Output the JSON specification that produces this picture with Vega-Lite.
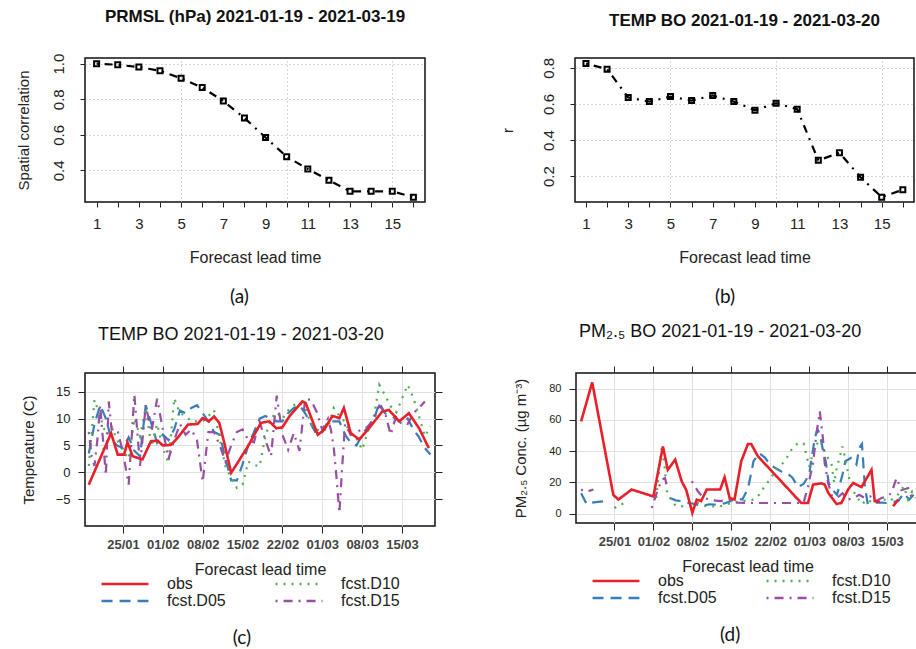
{
"$schema": "https://vega.github.io/schema/vega-lite/v6.json",
"background": "white",
"padding": {"left": 15, "top": 7, "right": 0, "bottom": 0},
"config": {
  "font": "Liberation Sans",
  "view": {"stroke": "#111", "strokeWidth": 1.5},
  "axis": {"labelFont": "Liberation Sans", "titleFont": "Liberation Sans", "titleFontWeight": "normal", "labelColor": "#222", "titleColor": "#222", "tickColor": "#222", "domain": false, "labelFlush": false, "labelOverlap": false},
  "title": {"font": "Liberation Sans", "color": "#111"}
},
"datasets": {
  "a": [{"lead":1,"r":1.0},{"lead":2,"r":0.994},{"lead":3,"r":0.981},{"lead":4,"r":0.96},{"lead":5,"r":0.918},{"lead":6,"r":0.866},{"lead":7,"r":0.79},{"lead":8,"r":0.695},{"lead":9,"r":0.585},{"lead":10,"r":0.477},{"lead":11,"r":0.408},{"lead":12,"r":0.344},{"lead":13,"r":0.282},{"lead":14,"r":0.282},{"lead":15,"r":0.282},{"lead":16,"r":0.249}],
  "b": [{"lead":1,"r":0.824},{"lead":2,"r":0.793},{"lead":3,"r":0.636},{"lead":4,"r":0.613},{"lead":5,"r":0.641},{"lead":6,"r":0.619},{"lead":7,"r":0.647},{"lead":8,"r":0.613},{"lead":9,"r":0.565},{"lead":10,"r":0.604},{"lead":11,"r":0.571},{"lead":12,"r":0.287},{"lead":13,"r":0.329},{"lead":14,"r":0.193},{"lead":15,"r":0.083},{"lead":16,"r":0.124}],
  "c_obs": [
{"s":"obs","t":"2021-01-19","v":-2.3},{"s":"obs","t":"2021-01-22T22:00Z","v":7.3},{"s":"obs","t":"2021-01-24T02:00Z","v":3.3},{"s":"obs","t":"2021-01-25T05:00Z","v":3.3},{"s":"obs","t":"2021-01-25T19:00Z","v":5.6},{"s":"obs","t":"2021-01-26T17:00Z","v":3.0},{"s":"obs","t":"2021-01-28T10:00Z","v":2.4},{"s":"obs","t":"2021-01-29T22:00Z","v":5.8},{"s":"obs","t":"2021-01-31T02:00Z","v":5.9},{"s":"obs","t":"2021-02-01","v":5.0},{"s":"obs","t":"2021-02-02T10:00Z","v":5.1},{"s":"obs","t":"2021-02-03T14:00Z","v":6.4},{"s":"obs","t":"2021-02-05T10:00Z","v":8.9},{"s":"obs","t":"2021-02-07T02:00Z","v":9.0},{"s":"obs","t":"2021-02-08","v":10.1},{"s":"obs","t":"2021-02-09T02:00Z","v":9.5},{"s":"obs","t":"2021-02-10","v":10.4},{"s":"obs","t":"2021-02-10T22:00Z","v":9.2},{"s":"obs","t":"2021-02-11T19:00Z","v":5.5},{"s":"obs","t":"2021-02-13","v":-0.1},{"s":"obs","t":"2021-02-14T02:00Z","v":1.7},{"s":"obs","t":"2021-02-15T22:00Z","v":4.8},{"s":"obs","t":"2021-02-18T05:00Z","v":9.2},{"s":"obs","t":"2021-02-19T17:00Z","v":9.5},{"s":"obs","t":"2021-02-20T22:00Z","v":8.2},{"s":"obs","t":"2021-02-22","v":8.4},{"s":"obs","t":"2021-02-23T05:00Z","v":10.4},{"s":"obs","t":"2021-02-25T12:00Z","v":13.2},{"s":"obs","t":"2021-02-26T02:00Z","v":12.9},{"s":"obs","t":"2021-02-28T05:00Z","v":7.0},{"s":"obs","t":"2021-03-01T07:00Z","v":7.9},{"s":"obs","t":"2021-03-02T19:00Z","v":10.5},{"s":"obs","t":"2021-03-04","v":10.1},{"s":"obs","t":"2021-03-04T19:00Z","v":12.0},{"s":"obs","t":"2021-03-06","v":7.3},{"s":"obs","t":"2021-03-07T12:00Z","v":6.1},{"s":"obs","t":"2021-03-09T12:00Z","v":8.6},{"s":"obs","t":"2021-03-11T12:00Z","v":11.3},{"s":"obs","t":"2021-03-12T17:00Z","v":11.6},{"s":"obs","t":"2021-03-14T12:00Z","v":9.5},{"s":"obs","t":"2021-03-16T05:00Z","v":11.0},{"s":"obs","t":"2021-03-18","v":8.2},{"s":"obs","t":"2021-03-19T17:00Z","v":4.5}],
  "c_fc": [
{"s":"fcst.D05","t":"2021-01-19","v":3.5},{"s":"fcst.D05","t":"2021-01-20","v":9},{"s":"fcst.D05","t":"2021-01-21","v":12.5},{"s":"fcst.D05","t":"2021-01-22","v":10},{"s":"fcst.D05","t":"2021-01-23","v":6},{"s":"fcst.D05","t":"2021-01-24","v":5},{"s":"fcst.D05","t":"2021-01-25","v":4.5},{"s":"fcst.D05","t":"2021-01-26","v":6.5},{"s":"fcst.D05","t":"2021-01-27","v":4},{"s":"fcst.D05","t":"2021-01-28","v":3},{"s":"fcst.D05","t":"2021-01-29","v":12.5},{"s":"fcst.D05","t":"2021-01-30","v":9},{"s":"fcst.D05","t":"2021-01-31","v":5.5},{"s":"fcst.D05","t":"2021-02-01","v":7},{"s":"fcst.D05","t":"2021-02-02","v":6},{"s":"fcst.D05","t":"2021-02-03","v":8},{"s":"fcst.D05","t":"2021-02-04","v":11.5},{"s":"fcst.D05","t":"2021-02-05","v":11},{"s":"fcst.D05","t":"2021-02-06","v":12},{"s":"fcst.D05","t":"2021-02-07","v":12.5},{"s":"fcst.D05","t":"2021-02-08","v":11},{"s":"fcst.D05","t":"2021-02-09","v":9.5},{"s":"fcst.D05","t":"2021-02-10","v":7.5},{"s":"fcst.D05","t":"2021-02-11","v":7},{"s":"fcst.D05","t":"2021-02-12","v":2.5},{"s":"fcst.D05","t":"2021-02-13","v":-1.5},{"s":"fcst.D05","t":"2021-02-14","v":-1.5},{"s":"fcst.D05","t":"2021-02-15","v":1.5},{"s":"fcst.D05","t":"2021-02-16","v":5},{"s":"fcst.D05","t":"2021-02-17","v":7.5},{"s":"fcst.D05","t":"2021-02-18","v":10},{"s":"fcst.D05","t":"2021-02-19","v":10.5},{"s":"fcst.D05","t":"2021-02-20","v":10},{"s":"fcst.D05","t":"2021-02-21","v":9.5},{"s":"fcst.D05","t":"2021-02-22","v":9.5},{"s":"fcst.D05","t":"2021-02-23","v":11},{"s":"fcst.D05","t":"2021-02-24","v":12},{"s":"fcst.D05","t":"2021-02-25","v":12.5},{"s":"fcst.D05","t":"2021-02-26","v":11},{"s":"fcst.D05","t":"2021-02-27","v":9},{"s":"fcst.D05","t":"2021-02-28","v":7},{"s":"fcst.D05","t":"2021-03-01","v":7.5},{"s":"fcst.D05","t":"2021-03-02","v":9.5},{"s":"fcst.D05","t":"2021-03-03","v":9.5},{"s":"fcst.D05","t":"2021-03-04","v":9.5},{"s":"fcst.D05","t":"2021-03-05","v":7},{"s":"fcst.D05","t":"2021-03-06","v":5.5},{"s":"fcst.D05","t":"2021-03-07","v":5},{"s":"fcst.D05","t":"2021-03-08","v":7},{"s":"fcst.D05","t":"2021-03-09","v":8.5},{"s":"fcst.D05","t":"2021-03-10","v":9.5},{"s":"fcst.D05","t":"2021-03-11","v":13},{"s":"fcst.D05","t":"2021-03-12","v":11},{"s":"fcst.D05","t":"2021-03-13","v":10.5},{"s":"fcst.D05","t":"2021-03-14","v":10},{"s":"fcst.D05","t":"2021-03-15","v":9},{"s":"fcst.D05","t":"2021-03-16","v":10},{"s":"fcst.D05","t":"2021-03-17","v":8},{"s":"fcst.D05","t":"2021-03-18","v":6.5},{"s":"fcst.D05","t":"2021-03-19","v":4.5},{"s":"fcst.D05","t":"2021-03-20","v":3.3},
{"s":"fcst.D10","t":"2021-01-19","v":1.2},{"s":"fcst.D10","t":"2021-01-20","v":13.5},{"s":"fcst.D10","t":"2021-01-21","v":10.4},{"s":"fcst.D10","t":"2021-01-22","v":7},{"s":"fcst.D10","t":"2021-01-23","v":8.5},{"s":"fcst.D10","t":"2021-01-24","v":6},{"s":"fcst.D10","t":"2021-01-25","v":4},{"s":"fcst.D10","t":"2021-01-26","v":2.5},{"s":"fcst.D10","t":"2021-01-27","v":10},{"s":"fcst.D10","t":"2021-01-28","v":6.7},{"s":"fcst.D10","t":"2021-01-29","v":12},{"s":"fcst.D10","t":"2021-01-30","v":4.8},{"s":"fcst.D10","t":"2021-01-31","v":9},{"s":"fcst.D10","t":"2021-02-01","v":4.5},{"s":"fcst.D10","t":"2021-02-02","v":1.7},{"s":"fcst.D10","t":"2021-02-03","v":13.8},{"s":"fcst.D10","t":"2021-02-04","v":11},{"s":"fcst.D10","t":"2021-02-05","v":10.5},{"s":"fcst.D10","t":"2021-02-06","v":9.5},{"s":"fcst.D10","t":"2021-02-07","v":9.5},{"s":"fcst.D10","t":"2021-02-08","v":9.5},{"s":"fcst.D10","t":"2021-02-09","v":10.5},{"s":"fcst.D10","t":"2021-02-10","v":11.6},{"s":"fcst.D10","t":"2021-02-11","v":6.1},{"s":"fcst.D10","t":"2021-02-12","v":1.1},{"s":"fcst.D10","t":"2021-02-13","v":-1},{"s":"fcst.D10","t":"2021-02-14","v":-2.9},{"s":"fcst.D10","t":"2021-02-15","v":-2.3},{"s":"fcst.D10","t":"2021-02-16","v":2},{"s":"fcst.D10","t":"2021-02-17","v":1.4},{"s":"fcst.D10","t":"2021-02-18","v":1.1},{"s":"fcst.D10","t":"2021-02-19","v":6.7},{"s":"fcst.D10","t":"2021-02-20","v":10},{"s":"fcst.D10","t":"2021-02-21","v":11.2},{"s":"fcst.D10","t":"2021-02-22","v":10},{"s":"fcst.D10","t":"2021-02-23","v":11.5},{"s":"fcst.D10","t":"2021-02-24","v":12.5},{"s":"fcst.D10","t":"2021-02-25","v":13},{"s":"fcst.D10","t":"2021-02-26","v":12},{"s":"fcst.D10","t":"2021-02-27","v":9},{"s":"fcst.D10","t":"2021-02-28","v":8},{"s":"fcst.D10","t":"2021-03-01","v":7.6},{"s":"fcst.D10","t":"2021-03-02","v":8.3},{"s":"fcst.D10","t":"2021-03-03","v":12},{"s":"fcst.D10","t":"2021-03-04","v":10.5},{"s":"fcst.D10","t":"2021-03-05","v":9.4},{"s":"fcst.D10","t":"2021-03-06","v":7},{"s":"fcst.D10","t":"2021-03-07","v":6.3},{"s":"fcst.D10","t":"2021-03-08","v":4.2},{"s":"fcst.D10","t":"2021-03-09","v":7.6},{"s":"fcst.D10","t":"2021-03-10","v":10},{"s":"fcst.D10","t":"2021-03-11","v":16.3},{"s":"fcst.D10","t":"2021-03-12","v":14.4},{"s":"fcst.D10","t":"2021-03-13","v":12.3},{"s":"fcst.D10","t":"2021-03-14","v":11.2},{"s":"fcst.D10","t":"2021-03-15","v":13.7},{"s":"fcst.D10","t":"2021-03-16","v":16.3},{"s":"fcst.D10","t":"2021-03-17","v":13.8},{"s":"fcst.D10","t":"2021-03-18","v":10.4},{"s":"fcst.D10","t":"2021-03-19","v":6.7},{"s":"fcst.D10","t":"2021-03-20","v":8.6},
{"s":"fcst.D15","t":"2021-01-19","v":7.5},{"s":"fcst.D15","t":"2021-01-19T12:00Z","v":3},{"s":"fcst.D15","t":"2021-01-20","v":1.2},{"s":"fcst.D15","t":"2021-01-20T12:00Z","v":6},{"s":"fcst.D15","t":"2021-01-21","v":12.5},{"s":"fcst.D15","t":"2021-01-22","v":-0.6},{"s":"fcst.D15","t":"2021-01-22T12:00Z","v":13.2},{"s":"fcst.D15","t":"2021-01-23","v":8},{"s":"fcst.D15","t":"2021-01-24","v":8},{"s":"fcst.D15","t":"2021-01-25","v":3.7},{"s":"fcst.D15","t":"2021-01-26","v":-2.3},{"s":"fcst.D15","t":"2021-01-26T12:00Z","v":6},{"s":"fcst.D15","t":"2021-01-27","v":14.5},{"s":"fcst.D15","t":"2021-01-28","v":1.2},{"s":"fcst.D15","t":"2021-01-29","v":12.5},{"s":"fcst.D15","t":"2021-01-30","v":7.5},{"s":"fcst.D15","t":"2021-01-31","v":13.7},{"s":"fcst.D15","t":"2021-02-01","v":8},{"s":"fcst.D15","t":"2021-02-02","v":2.5},{"s":"fcst.D15","t":"2021-02-03","v":6},{"s":"fcst.D15","t":"2021-02-04","v":9},{"s":"fcst.D15","t":"2021-02-05","v":7},{"s":"fcst.D15","t":"2021-02-06","v":8},{"s":"fcst.D15","t":"2021-02-07","v":6},{"s":"fcst.D15","t":"2021-02-08","v":-1.8},{"s":"fcst.D15","t":"2021-02-09","v":7.5},{"s":"fcst.D15","t":"2021-02-10","v":7.5},{"s":"fcst.D15","t":"2021-02-11","v":5},{"s":"fcst.D15","t":"2021-02-12","v":2},{"s":"fcst.D15","t":"2021-02-13","v":5},{"s":"fcst.D15","t":"2021-02-14","v":7.5},{"s":"fcst.D15","t":"2021-02-15","v":8},{"s":"fcst.D15","t":"2021-02-16","v":6},{"s":"fcst.D15","t":"2021-02-17","v":5.6},{"s":"fcst.D15","t":"2021-02-18","v":9.4},{"s":"fcst.D15","t":"2021-02-19","v":6},{"s":"fcst.D15","t":"2021-02-20","v":3},{"s":"fcst.D15","t":"2021-02-21","v":14.3},{"s":"fcst.D15","t":"2021-02-22","v":7},{"s":"fcst.D15","t":"2021-02-23","v":4.2},{"s":"fcst.D15","t":"2021-02-24","v":7.3},{"s":"fcst.D15","t":"2021-02-25","v":4},{"s":"fcst.D15","t":"2021-02-26","v":13.7},{"s":"fcst.D15","t":"2021-02-27","v":13.5},{"s":"fcst.D15","t":"2021-02-28","v":11.3},{"s":"fcst.D15","t":"2021-03-01","v":7.9},{"s":"fcst.D15","t":"2021-03-02","v":10},{"s":"fcst.D15","t":"2021-03-02T12:00Z","v":8},{"s":"fcst.D15","t":"2021-03-03","v":4.8},{"s":"fcst.D15","t":"2021-03-03T12:00Z","v":-1},{"s":"fcst.D15","t":"2021-03-04","v":-7.6},{"s":"fcst.D15","t":"2021-03-04T12:00Z","v":1.1},{"s":"fcst.D15","t":"2021-03-05","v":9},{"s":"fcst.D15","t":"2021-03-06","v":7},{"s":"fcst.D15","t":"2021-03-07","v":7.5},{"s":"fcst.D15","t":"2021-03-08","v":8},{"s":"fcst.D15","t":"2021-03-09","v":8.5},{"s":"fcst.D15","t":"2021-03-10","v":10},{"s":"fcst.D15","t":"2021-03-11","v":12.4},{"s":"fcst.D15","t":"2021-03-12","v":11.2},{"s":"fcst.D15","t":"2021-03-13","v":7},{"s":"fcst.D15","t":"2021-03-14","v":10.6},{"s":"fcst.D15","t":"2021-03-15","v":9.4},{"s":"fcst.D15","t":"2021-03-16","v":9},{"s":"fcst.D15","t":"2021-03-17","v":11},{"s":"fcst.D15","t":"2021-03-18","v":12},{"s":"fcst.D15","t":"2021-03-19","v":13.2}],
  "d_obs": [
{"s":"obs","t":"2021-01-19","v":59},{"s":"obs","t":"2021-01-21","v":84},{"s":"obs","t":"2021-01-24T19:00Z","v":12},{"s":"obs","t":"2021-01-25T17:00Z","v":9},{"s":"obs","t":"2021-01-28T02:00Z","v":15.4},{"s":"obs","t":"2021-02-01","v":11},{"s":"obs","t":"2021-02-02T17:00Z","v":43},{"s":"obs","t":"2021-02-03T14:00Z","v":28},{"s":"obs","t":"2021-02-04T22:00Z","v":34.6},{"s":"obs","t":"2021-02-06T02:00Z","v":20.7},{"s":"obs","t":"2021-02-06T22:00Z","v":15},{"s":"obs","t":"2021-02-08","v":0.5},{"s":"obs","t":"2021-02-08T19:00Z","v":9},{"s":"obs","t":"2021-02-09T14:00Z","v":8},{"s":"obs","t":"2021-02-10T14:00Z","v":15.4},{"s":"obs","t":"2021-02-13","v":15.4},{"s":"obs","t":"2021-02-13T19:00Z","v":23.3},{"s":"obs","t":"2021-02-14T17:00Z","v":10},{"s":"obs","t":"2021-02-15T14:00Z","v":9},{"s":"obs","t":"2021-02-16T19:00Z","v":33.5},{"s":"obs","t":"2021-02-18","v":44.6},{"s":"obs","t":"2021-02-18T14:00Z","v":44.6},{"s":"obs","t":"2021-02-19T19:00Z","v":36.7},{"s":"obs","t":"2021-02-27T14:00Z","v":6.8},{"s":"obs","t":"2021-02-28T19:00Z","v":6.8},{"s":"obs","t":"2021-03-01T17:00Z","v":18.6},{"s":"obs","t":"2021-03-03T05:00Z","v":19.4},{"s":"obs","t":"2021-03-03T19:00Z","v":18.6},{"s":"obs","t":"2021-03-04T10:00Z","v":13.4},{"s":"obs","t":"2021-03-05T22:00Z","v":6.2},{"s":"obs","t":"2021-03-06T19:00Z","v":6.8},{"s":"obs","t":"2021-03-08","v":15.4},{"s":"obs","t":"2021-03-08T22:00Z","v":19.6},{"s":"obs","t":"2021-03-10T10:00Z","v":17},{"s":"obs","t":"2021-03-12T05:00Z","v":28},{"s":"obs","t":"2021-03-12T19:00Z","v":8},{"s":"obs","t":"2021-03-13T17:00Z","v":7.5},{"s":"obs","t":"2021-03-15","v":null},{"s":"obs","t":"2021-03-16T02:00Z","v":4.7},{"s":"obs","t":"2021-03-17","v":9}],
  "d_fc": [
{"s":"fcst.D05","t":"2021-01-19","v":13},{"s":"fcst.D05","t":"2021-01-20","v":6},{"s":"fcst.D05","t":"2021-01-21","v":7},{"s":"fcst.D05","t":"2021-01-22","v":7.5},{"s":"fcst.D05","t":"2021-01-23T07:00Z","v":8},{"s":"fcst.D05","t":"2021-01-25","v":null},{"s":"fcst.D05","t":"2021-02-04","v":10},{"s":"fcst.D05","t":"2021-02-05","v":8.5},{"s":"fcst.D05","t":"2021-02-06","v":8},{"s":"fcst.D05","t":"2021-02-07","v":7},{"s":"fcst.D05","t":"2021-02-08","v":6.5},{"s":"fcst.D05","t":"2021-02-09","v":5.5},{"s":"fcst.D05","t":"2021-02-10","v":5},{"s":"fcst.D05","t":"2021-02-11","v":6},{"s":"fcst.D05","t":"2021-02-12","v":5.8},{"s":"fcst.D05","t":"2021-02-13","v":6},{"s":"fcst.D05","t":"2021-02-14","v":6.8},{"s":"fcst.D05","t":"2021-02-15","v":8.3},{"s":"fcst.D05","t":"2021-02-16","v":9.5},{"s":"fcst.D05","t":"2021-02-17","v":9},{"s":"fcst.D05","t":"2021-02-18","v":16},{"s":"fcst.D05","t":"2021-02-19","v":33.5},{"s":"fcst.D05","t":"2021-02-20","v":38.8},{"s":"fcst.D05","t":"2021-02-21","v":36},{"s":"fcst.D05","t":"2021-02-22","v":31.4},{"s":"fcst.D05","t":"2021-02-23","v":29},{"s":"fcst.D05","t":"2021-02-24","v":27},{"s":"fcst.D05","t":"2021-02-25","v":26},{"s":"fcst.D05","t":"2021-02-26","v":23},{"s":"fcst.D05","t":"2021-02-27","v":17},{"s":"fcst.D05","t":"2021-02-28","v":19},{"s":"fcst.D05","t":"2021-03-01","v":25},{"s":"fcst.D05","t":"2021-03-02","v":48},{"s":"fcst.D05","t":"2021-03-02T12:00Z","v":54},{"s":"fcst.D05","t":"2021-03-03","v":50},{"s":"fcst.D05","t":"2021-03-03T12:00Z","v":40},{"s":"fcst.D05","t":"2021-03-04","v":33},{"s":"fcst.D05","t":"2021-03-04T12:00Z","v":20},{"s":"fcst.D05","t":"2021-03-05","v":16},{"s":"fcst.D05","t":"2021-03-06","v":12},{"s":"fcst.D05","t":"2021-03-07","v":25},{"s":"fcst.D05","t":"2021-03-07T12:00Z","v":33.5},{"s":"fcst.D05","t":"2021-03-08T12:00Z","v":35.6},{"s":"fcst.D05","t":"2021-03-09T12:00Z","v":31.4},{"s":"fcst.D05","t":"2021-03-10","v":42},{"s":"fcst.D05","t":"2021-03-10T12:00Z","v":44.6},{"s":"fcst.D05","t":"2021-03-11","v":18},{"s":"fcst.D05","t":"2021-03-11T12:00Z","v":6.8},{"s":"fcst.D05","t":"2021-03-12","v":7},{"s":"fcst.D05","t":"2021-03-13","v":7},{"s":"fcst.D05","t":"2021-03-14","v":7},{"s":"fcst.D05","t":"2021-03-15","v":6.8},{"s":"fcst.D05","t":"2021-03-16","v":7.5},{"s":"fcst.D05","t":"2021-03-17","v":8},{"s":"fcst.D05","t":"2021-03-18","v":13},{"s":"fcst.D05","t":"2021-03-19","v":9},{"s":"fcst.D05","t":"2021-03-20","v":13},
{"s":"fcst.D10","t":"2021-01-25","v":3.6},{"s":"fcst.D10","t":"2021-01-26","v":5.8},{"s":"fcst.D10","t":"2021-01-27","v":6.8},{"s":"fcst.D10","t":"2021-01-30","v":null},{"s":"fcst.D10","t":"2021-02-01T12:00Z","v":10},{"s":"fcst.D10","t":"2021-02-02T12:00Z","v":43},{"s":"fcst.D10","t":"2021-02-03","v":30},{"s":"fcst.D10","t":"2021-02-03T12:00Z","v":12},{"s":"fcst.D10","t":"2021-02-04","v":10},{"s":"fcst.D10","t":"2021-02-05","v":5},{"s":"fcst.D10","t":"2021-02-06","v":4.7},{"s":"fcst.D10","t":"2021-02-07","v":5},{"s":"fcst.D10","t":"2021-02-08","v":6},{"s":"fcst.D10","t":"2021-02-09","v":6.8},{"s":"fcst.D10","t":"2021-02-10","v":5},{"s":"fcst.D10","t":"2021-02-11","v":4.7},{"s":"fcst.D10","t":"2021-02-12","v":4.7},{"s":"fcst.D10","t":"2021-02-13","v":4.7},{"s":"fcst.D10","t":"2021-02-14","v":5.8},{"s":"fcst.D10","t":"2021-02-15","v":6.8},{"s":"fcst.D10","t":"2021-02-16","v":7.5},{"s":"fcst.D10","t":"2021-02-17","v":8},{"s":"fcst.D10","t":"2021-02-18","v":8.5},{"s":"fcst.D10","t":"2021-02-19","v":9},{"s":"fcst.D10","t":"2021-02-20","v":12},{"s":"fcst.D10","t":"2021-02-21","v":17.5},{"s":"fcst.D10","t":"2021-02-22","v":22},{"s":"fcst.D10","t":"2021-02-23","v":28},{"s":"fcst.D10","t":"2021-02-24","v":31},{"s":"fcst.D10","t":"2021-02-25","v":36},{"s":"fcst.D10","t":"2021-02-26","v":42},{"s":"fcst.D10","t":"2021-02-27","v":45},{"s":"fcst.D10","t":"2021-02-28","v":45},{"s":"fcst.D10","t":"2021-03-01","v":30},{"s":"fcst.D10","t":"2021-03-02","v":43},{"s":"fcst.D10","t":"2021-03-03","v":47},{"s":"fcst.D10","t":"2021-03-04","v":37.8},{"s":"fcst.D10","t":"2021-03-05","v":32},{"s":"fcst.D10","t":"2021-03-05T12:00Z","v":19.6},{"s":"fcst.D10","t":"2021-03-06","v":30},{"s":"fcst.D10","t":"2021-03-07","v":43},{"s":"fcst.D10","t":"2021-03-07T12:00Z","v":35},{"s":"fcst.D10","t":"2021-03-08","v":26},{"s":"fcst.D10","t":"2021-03-08T12:00Z","v":17.5},{"s":"fcst.D10","t":"2021-03-09T12:00Z","v":11},{"s":"fcst.D10","t":"2021-03-10T12:00Z","v":6},{"s":"fcst.D10","t":"2021-03-11T12:00Z","v":9},{"s":"fcst.D10","t":"2021-03-12T12:00Z","v":6.8},{"s":"fcst.D10","t":"2021-03-13T12:00Z","v":9},{"s":"fcst.D10","t":"2021-03-14T12:00Z","v":9},{"s":"fcst.D10","t":"2021-03-15T12:00Z","v":8},{"s":"fcst.D10","t":"2021-03-16T12:00Z","v":11},{"s":"fcst.D10","t":"2021-03-17","v":12.2},{"s":"fcst.D10","t":"2021-03-18","v":17.5},{"s":"fcst.D10","t":"2021-03-18T19:00Z","v":9},{"s":"fcst.D10","t":"2021-03-19T12:00Z","v":14},{"s":"fcst.D10","t":"2021-03-20","v":10},
{"s":"fcst.D15","t":"2021-01-19","v":15.4},{"s":"fcst.D15","t":"2021-01-19T17:00Z","v":14},{"s":"fcst.D15","t":"2021-01-20T14:00Z","v":14.7},{"s":"fcst.D15","t":"2021-01-21T05:00Z","v":15.4},{"s":"fcst.D15","t":"2021-01-23","v":null},{"s":"fcst.D15","t":"2021-01-31T17:00Z","v":3.6},{"s":"fcst.D15","t":"2021-02-01T14:00Z","v":13.2},{"s":"fcst.D15","t":"2021-02-02T12:00Z","v":21.8},{"s":"fcst.D15","t":"2021-02-03T02:00Z","v":22.8},{"s":"fcst.D15","t":"2021-02-03T14:00Z","v":15},{"s":"fcst.D15","t":"2021-02-05","v":null},{"s":"fcst.D15","t":"2021-02-07T22:00Z","v":20.7},{"s":"fcst.D15","t":"2021-02-09","v":14.3},{"s":"fcst.D15","t":"2021-02-10","v":10},{"s":"fcst.D15","t":"2021-02-11T17:00Z","v":8.6},{"s":"fcst.D15","t":"2021-02-13","v":8},{"s":"fcst.D15","t":"2021-02-14T17:00Z","v":9},{"s":"fcst.D15","t":"2021-02-16","v":7},{"s":"fcst.D15","t":"2021-02-18","v":6.8},{"s":"fcst.D15","t":"2021-02-20","v":6.8},{"s":"fcst.D15","t":"2021-02-22","v":6.8},{"s":"fcst.D15","t":"2021-02-24","v":6.8},{"s":"fcst.D15","t":"2021-02-26","v":6.8},{"s":"fcst.D15","t":"2021-02-28","v":6.8},{"s":"fcst.D15","t":"2021-02-28T19:00Z","v":17.5},{"s":"fcst.D15","t":"2021-03-01T17:00Z","v":32.4},{"s":"fcst.D15","t":"2021-03-02T07:00Z","v":50.6},{"s":"fcst.D15","t":"2021-03-02T22:00Z","v":65.5},{"s":"fcst.D15","t":"2021-03-03T12:00Z","v":47.4},{"s":"fcst.D15","t":"2021-03-03T19:00Z","v":32.4},{"s":"fcst.D15","t":"2021-03-04T10:00Z","v":19.6},{"s":"fcst.D15","t":"2021-03-05","v":12},{"s":"fcst.D15","t":"2021-03-06","v":10},{"s":"fcst.D15","t":"2021-03-07","v":13},{"s":"fcst.D15","t":"2021-03-08","v":9},{"s":"fcst.D15","t":"2021-03-09","v":10},{"s":"fcst.D15","t":"2021-03-10","v":12},{"s":"fcst.D15","t":"2021-03-11","v":10},{"s":"fcst.D15","t":"2021-03-12","v":11},{"s":"fcst.D15","t":"2021-03-13","v":8},{"s":"fcst.D15","t":"2021-03-14","v":10},{"s":"fcst.D15","t":"2021-03-15","v":11},{"s":"fcst.D15","t":"2021-03-15T19:00Z","v":13.2},{"s":"fcst.D15","t":"2021-03-16T17:00Z","v":22.8},{"s":"fcst.D15","t":"2021-03-17T14:00Z","v":15},{"s":"fcst.D15","t":"2021-03-18T19:00Z","v":16.4},{"s":"fcst.D15","t":"2021-03-19T12:00Z","v":10},{"s":"fcst.D15","t":"2021-03-20","v":9}]
},
"resolve": {"scale": {"color": "independent", "strokeDash": "independent"}, "legend": {"color": "independent", "strokeDash": "independent"}},
"spacing": 14,
"vconcat": [
 {"spacing": 73,
  "resolve": {"scale": {"color": "independent", "strokeDash": "independent"}, "legend": {"color": "independent", "strokeDash": "independent"}},
  "hconcat": [
  {"title": {"text": "(a)", "orient": "bottom", "font": "Lato", "fontSize": 19, "fontWeight": "normal", "offset": 22, "dx": 19, "anchor": "middle", "color": "#111"},
   "vconcat": [
   {"width": 340, "height": 144,
    "title": {"text": "PRMSL (hPa) 2021-01-19 - 2021-03-19", "fontSize": 17, "fontWeight": "bold", "frame": "group", "anchor": "middle", "offset": 27},
    "data": {"name": "a"},
    "layer": [
     {"mark": {"type": "line", "color": "black", "strokeWidth": 2.2, "strokeDash": [2, 6, 8, 6]},
      "encoding": {
       "x": {"field": "lead", "type": "quantitative", "scale": {"domain": [0.45, 16.55], "nice": false, "zero": false},
             "axis": {"values": [1,2,3,4,5,6,7,8,9,10,11,12,13,14,15,16], "labelExpr": "datum.value % 2 == 1 ? datum.label : ''", "grid": false, "tickSize": 5, "labelPadding": 9, "labelFontSize": 15, "title": "Forecast lead time", "titleFontSize": 16, "titlePadding": 18}},
       "y": {"field": "r", "type": "quantitative", "scale": {"domain": [0.222, 1.032], "nice": false, "zero": false},
             "axis": {"values": [0.4, 0.6, 0.8, 1.0], "format": ".1f", "labelAngle": -90, "labelFontSize": 15, "tickSize": 5, "labelPadding": 14, "grid": true, "gridDash": [1, 3], "gridColor": "#aaaaaa", "title": "Spatial correlation", "titleFontSize": 15, "titlePadding": 20}}}},
     {"mark": {"type": "point", "shape": "square", "filled": false, "color": "black", "strokeWidth": 2, "size": 25, "opacity": 1},
      "encoding": {
       "x": {"field": "lead", "type": "quantitative", "axis": {"orient": "top", "values": [5, 10, 15], "grid": true, "gridDash": [1, 3], "gridColor": "#aaaaaa", "labels": false, "ticks": false, "title": null}},
       "y": {"field": "r", "type": "quantitative"}}}
    ],
    "resolve": {"axis": {"x": "independent"}}}
   ]},
  {"title": {"text": "(b)", "orient": "bottom", "font": "Lato", "fontSize": 19, "fontWeight": "normal", "offset": 22, "dx": 18, "anchor": "middle", "color": "#111"},
   "vconcat": [
   {"width": 339, "height": 144,
    "title": {"text": "TEMP BO 2021-01-19 - 2021-03-20", "fontSize": 17, "fontWeight": "bold", "frame": "group", "anchor": "middle", "offset": 27},
    "data": {"name": "b"},
    "layer": [
     {"mark": {"type": "line", "color": "black", "strokeWidth": 2.2, "strokeDash": [2, 6, 8, 6]},
      "encoding": {
       "x": {"field": "lead", "type": "quantitative", "scale": {"domain": [0.48, 16.53], "nice": false, "zero": false},
             "axis": {"values": [1,2,3,4,5,6,7,8,9,10,11,12,13,14,15,16], "labelExpr": "datum.value % 2 == 1 ? datum.label : ''", "grid": false, "tickSize": 5, "labelPadding": 9, "labelFontSize": 15, "title": "Forecast lead time", "titleFontSize": 16, "titlePadding": 18}},
       "y": {"field": "r", "type": "quantitative", "scale": {"domain": [0.056, 0.855], "nice": false, "zero": false},
             "axis": {"values": [0.2, 0.4, 0.6, 0.8], "format": ".1f", "labelAngle": -90, "labelFontSize": 15, "tickSize": 5, "labelPadding": 14, "grid": true, "gridDash": [1, 3], "gridColor": "#aaaaaa", "title": "r", "titleFontSize": 15, "titlePadding": 26}}}},
     {"mark": {"type": "point", "shape": "square", "filled": false, "color": "black", "strokeWidth": 2, "size": 25, "opacity": 1},
      "encoding": {
       "x": {"field": "lead", "type": "quantitative", "axis": {"orient": "top", "values": [5, 10, 15], "grid": true, "gridDash": [1, 3], "gridColor": "#aaaaaa", "labels": false, "ticks": false, "title": null}},
       "y": {"field": "r", "type": "quantitative"}}}
    ],
    "resolve": {"axis": {"x": "independent"}}}
   ]}
 ]},
 {"spacing": 69,
  "resolve": {"scale": {"color": "independent", "strokeDash": "independent"}, "legend": {"color": "independent", "strokeDash": "independent"}},
  "hconcat": [
  {"title": {"text": "(c)", "orient": "bottom", "font": "Lato", "fontSize": 19, "fontWeight": "normal", "offset": 19, "dx": 10, "anchor": "middle", "color": "#111"},
   "resolve": {"scale": {"color": "independent", "strokeDash": "independent"}, "legend": {"color": "independent", "strokeDash": "independent"}},
   "vconcat": [
   {"width": 350, "height": 153,
    "title": {"text": "TEMP BO 2021-01-19 - 2021-03-20", "fontSize": 18, "fontWeight": "normal", "frame": "bounds", "anchor": "middle", "dx": 9, "offset": 22},
    "layer": [
     {"data": {"name": "c_fc"},
      "mark": {"type": "line", "strokeWidth": 2.2},
      "encoding": {
       "x": {"field": "t", "type": "temporal", "scale": {"type": "utc", "nice": false, "domain": [{"year": 2021, "month": 1, "date": 18, "hours": 8, "utc": true}, {"year": 2021, "month": 3, "date": 20, "hours": 19, "utc": true}]},
             "axis": {"orient": "top", "values": [{"year":2021,"month":1,"date":25,"utc":true},{"year":2021,"month":2,"date":1,"utc":true},{"year":2021,"month":2,"date":8,"utc":true},{"year":2021,"month":2,"date":15,"utc":true},{"year":2021,"month":2,"date":22,"utc":true},{"year":2021,"month":3,"date":1,"utc":true},{"year":2021,"month":3,"date":8,"utc":true},{"year":2021,"month":3,"date":15,"utc":true}], "labels": false, "grid": false, "tickSize": 7, "title": null}},
       "y": {"field": "v", "type": "quantitative", "scale": {"domain": [-10, 18.5], "nice": false, "zero": false},
             "axis": {"orient": "right", "values": [-5, 0, 5, 10, 15], "labels": false, "grid": false, "tickSize": 7, "title": null}},
       "color": {"field": "s", "type": "nominal", "scale": {"domain": ["obs", "fcst.D05", "fcst.D10", "fcst.D15"], "range": ["#E8202A", "#377EB8", "#4DAF4A", "#984EA3"]},
                 "legend": {"orient": "none", "legendX": 15, "legendY": 203, "columns": 2, "title": null, "symbolType": "stroke", "symbolSize": 2200, "symbolStrokeWidth": 2.5, "labelFontSize": 16, "labelFont": "Liberation Sans", "labelColor": "#222", "labelOffset": 17, "columnPadding": 48, "rowPadding": 1, "padding": 0, "symbolOffset": 0, "clipHeight": 16}},
       "strokeDash": {"field": "s", "type": "nominal", "scale": {"domain": ["obs", "fcst.D05", "fcst.D10", "fcst.D15"], "range": [[1, 0], [11, 7], [2, 6], [2, 6, 9, 6]]},
                 "legend": {"orient": "none", "legendX": 15, "legendY": 203, "columns": 2, "title": null, "symbolType": "stroke", "symbolSize": 2200, "symbolStrokeWidth": 2.5, "labelFontSize": 16, "labelFont": "Liberation Sans", "labelColor": "#222", "labelOffset": 17, "columnPadding": 48, "rowPadding": 1, "padding": 0, "symbolOffset": 0, "clipHeight": 16}}}},
     {"data": {"name": "c_obs"},
      "mark": {"type": "line", "strokeWidth": 2.6},
      "encoding": {
       "x": {"field": "t", "type": "temporal",
             "axis": {"orient": "bottom", "values": [{"year":2021,"month":1,"date":25,"utc":true},{"year":2021,"month":2,"date":1,"utc":true},{"year":2021,"month":2,"date":8,"utc":true},{"year":2021,"month":2,"date":15,"utc":true},{"year":2021,"month":2,"date":22,"utc":true},{"year":2021,"month":3,"date":1,"utc":true},{"year":2021,"month":3,"date":8,"utc":true},{"year":2021,"month":3,"date":15,"utc":true}], "format": "%d/%m", "labelFontSize": 13, "labelFontWeight": "bold", "labelColor": "#444", "tickSize": 7, "labelPadding": 5, "grid": true, "gridColor": "#e0e0e0", "title": "Forecast lead time", "titleFontSize": 16, "titlePadding": 10}},
       "y": {"field": "v", "type": "quantitative",
             "axis": {"orient": "left", "values": [-5, 0, 5, 10, 15], "labelFontSize": 13, "tickSize": 7, "labelPadding": 8, "grid": true, "gridColor": "#e0e0e0", "title": "Temperature (C)", "titleFontSize": 15, "titlePadding": 19}},
       "color": {"field": "s", "type": "nominal"},
       "strokeDash": {"field": "s", "type": "nominal"}}}
    ],
    "resolve": {"axis": {"x": "independent", "y": "independent"}}}
   ]},
  {"title": {"text": "(d)", "orient": "bottom", "font": "Lato", "fontSize": 19, "fontWeight": "normal", "offset": 19, "dx": 10, "anchor": "middle", "color": "#111"},
   "resolve": {"scale": {"color": "independent", "strokeDash": "independent"}, "legend": {"color": "independent", "strokeDash": "independent"}},
   "vconcat": [
   {"width": 343, "height": 150,
    "title": {"text": "PM₂.₅ BO 2021-01-19 - 2021-03-20", "fontSize": 18, "fontWeight": "normal", "frame": "bounds", "anchor": "middle", "dx": 0, "offset": 25},
    "layer": [
     {"data": {"name": "d_fc"},
      "mark": {"type": "line", "strokeWidth": 2.2, "invalid": "break-paths-filter-domains"},
      "encoding": {
       "x": {"field": "t", "type": "temporal", "scale": {"type": "utc", "nice": false, "domain": [{"year": 2021, "month": 1, "date": 18, "hours": 2, "utc": true}, {"year": 2021, "month": 3, "date": 20, "hours": 18, "utc": true}]},
             "axis": {"orient": "top", "values": [{"year":2021,"month":1,"date":25,"utc":true},{"year":2021,"month":2,"date":1,"utc":true},{"year":2021,"month":2,"date":8,"utc":true},{"year":2021,"month":2,"date":15,"utc":true},{"year":2021,"month":2,"date":22,"utc":true},{"year":2021,"month":3,"date":1,"utc":true},{"year":2021,"month":3,"date":8,"utc":true},{"year":2021,"month":3,"date":15,"utc":true}], "labels": false, "grid": false, "tickSize": 7, "title": null}},
       "y": {"field": "v", "type": "quantitative", "scale": {"domain": [-6, 90], "nice": false, "zero": false},
             "axis": {"orient": "right", "values": [0, 20, 40, 60, 80], "labels": false, "grid": false, "tickSize": 7, "title": null}},
       "color": {"field": "s", "type": "nominal", "scale": {"domain": ["obs", "fcst.D05", "fcst.D10", "fcst.D15"], "range": ["#E8202A", "#377EB8", "#4DAF4A", "#984EA3"]},
                 "legend": {"orient": "none", "legendX": 15, "legendY": 200, "columns": 2, "title": null, "symbolType": "stroke", "symbolSize": 2200, "symbolStrokeWidth": 2.5, "labelFontSize": 16, "labelFont": "Liberation Sans", "labelColor": "#222", "labelOffset": 17, "columnPadding": 48, "rowPadding": 1, "padding": 0, "symbolOffset": 0, "clipHeight": 16}},
       "strokeDash": {"field": "s", "type": "nominal", "scale": {"domain": ["obs", "fcst.D05", "fcst.D10", "fcst.D15"], "range": [[1, 0], [11, 7], [2, 6], [2, 6, 9, 6]]},
                 "legend": {"orient": "none", "legendX": 15, "legendY": 200, "columns": 2, "title": null, "symbolType": "stroke", "symbolSize": 2200, "symbolStrokeWidth": 2.5, "labelFontSize": 16, "labelFont": "Liberation Sans", "labelColor": "#222", "labelOffset": 17, "columnPadding": 48, "rowPadding": 1, "padding": 0, "symbolOffset": 0, "clipHeight": 16}}}},
     {"data": {"name": "d_obs"},
      "mark": {"type": "line", "strokeWidth": 2.6, "invalid": "break-paths-filter-domains"},
      "encoding": {
       "x": {"field": "t", "type": "temporal",
             "axis": {"orient": "bottom", "values": [{"year":2021,"month":1,"date":25,"utc":true},{"year":2021,"month":2,"date":1,"utc":true},{"year":2021,"month":2,"date":8,"utc":true},{"year":2021,"month":2,"date":15,"utc":true},{"year":2021,"month":2,"date":22,"utc":true},{"year":2021,"month":3,"date":1,"utc":true},{"year":2021,"month":3,"date":8,"utc":true},{"year":2021,"month":3,"date":15,"utc":true}], "format": "%d/%m", "labelFontSize": 13, "labelFontWeight": "bold", "labelColor": "#444", "tickSize": 7, "labelPadding": 5, "grid": true, "gridColor": "#e0e0e0", "title": "Forecast lead time", "titleFontSize": 16, "titlePadding": 10}},
       "y": {"field": "v", "type": "quantitative",
             "axis": {"orient": "left", "values": [0, 20, 40, 60, 80], "labelFontSize": 11, "tickSize": 7, "labelPadding": 8, "grid": true, "gridColor": "#e0e0e0", "title": "PM₂.₅ Conc. (µg m⁻³)", "titleFontSize": 15, "titlePadding": 20}},
       "color": {"field": "s", "type": "nominal"},
       "strokeDash": {"field": "s", "type": "nominal"}}}
    ],
    "resolve": {"axis": {"x": "independent", "y": "independent"}}}
   ]}
 ]}
]
}
